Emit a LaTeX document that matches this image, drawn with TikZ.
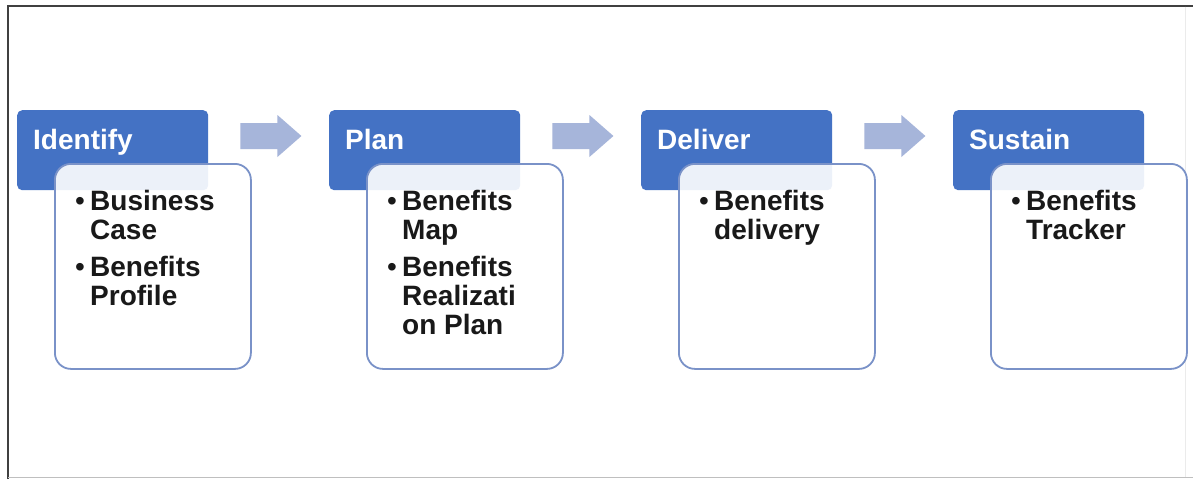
\documentclass[tikz,border=0pt]{standalone}
\usepackage{fontspec}
\setmainfont{Liberation Sans}
\usetikzlibrary{calc}
\definecolor{hdrblue}{RGB}{68,114,196}
\definecolor{arrowblue}{RGB}{166,181,218}
\definecolor{boxline}{RGB}{122,146,200}
\newcommand{\mybul}{\makebox[15pt][l]{\mdseries\textbullet}}
\begin{document}
\begin{tikzpicture}[x=1pt,y=-1pt,
  hdr/.style={fill=hdrblue, draw=none, rounded corners=5pt, minimum width=191pt, minimum height=80pt, anchor=north west, inner sep=0pt},
  cbox/.style={fill=white, fill opacity=0.9, draw=boxline, line width=1.8pt, rounded corners=16pt, minimum width=196pt, minimum height=205pt, anchor=north west, inner sep=0pt},
  htext/.style={anchor=base west, text=white, inner sep=0pt, font=\fontsize{28}{30}\selectfont\bfseries},
  ctext/.style={anchor=base west, inner sep=0pt, text=black!90, font=\fontsize{28}{29}\selectfont\bfseries},
  flow/.style={fill=arrowblue, draw=none}]
\useasboundingbox (0,0) rectangle (1193,479);
\fill[white] (0,0) rectangle (1193,479);
% frame
\draw[line width=2pt, black!75] (8,479) -- (8,5.5) -- (1193,5.5);
\draw[line width=1.2pt, black!25] (8,477.5) -- (1193,477.5);
\draw[line width=0.8pt, black!8] (1185,6.5) -- (1185,477);
% stage 1
\node[hdr] (h1) at (17,110) {};
\node[hdr] (h2) at (329,110) {};
\node[hdr] (h3) at (641,110) {};
\node[hdr] (h4) at (953,110) {};
\node[htext] (t1) at ($(h1.north west)+(16,39)$) {Identify};
\node[htext] (t2) at ($(h2.north west)+(16,39)$) {Plan};
\node[htext] (t3) at ($(h3.north west)+(16,39)$) {Deliver};
\node[htext] (t4) at ($(h4.north west)+(16,39)$) {Sustain};
\node[cbox] (c1) at ($(h1.north west)+(37,53)$) {};
\node[cbox] (c2) at ($(h2.north west)+(37,53)$) {};
\node[cbox] (c3) at ($(h3.north west)+(37,53)$) {};
\node[cbox] (c4) at ($(h4.north west)+(37,53)$) {};
\node[ctext] (l1) at ($(c1.north west)+(21,47)$) {\begin{tabular}[t]{@{}l@{}l@{}}\mybul&Business\\&Case\\[8pt]\mybul&Benefits\\&Profile\end{tabular}};
\node[ctext] (l2) at ($(c2.north west)+(21,47)$) {\begin{tabular}[t]{@{}l@{}l@{}}\mybul&Benefits\\&Map\\[8pt]\mybul&Benefits\\&Realizati\\&on Plan\end{tabular}};
\node[ctext] (l3) at ($(c3.north west)+(21,47)$) {\begin{tabular}[t]{@{}l@{}l@{}}\mybul&Benefits\\&delivery\end{tabular}};
\node[ctext] (l4) at ($(c4.north west)+(21,47)$) {\begin{tabular}[t]{@{}l@{}l@{}}\mybul&Benefits\\&Tracker\end{tabular}};
% block arrows
\foreach \a in {h1,h2,h3}{
  \fill[flow] ($(\a.north east)+(32,13)$) -- ++(37,0) -- ++(0,-8) -- ++(24,21) -- ++(-24,21) -- ++(0,-8) -- ++(-37,0) -- cycle;
}
\end{tikzpicture}
\end{document}
